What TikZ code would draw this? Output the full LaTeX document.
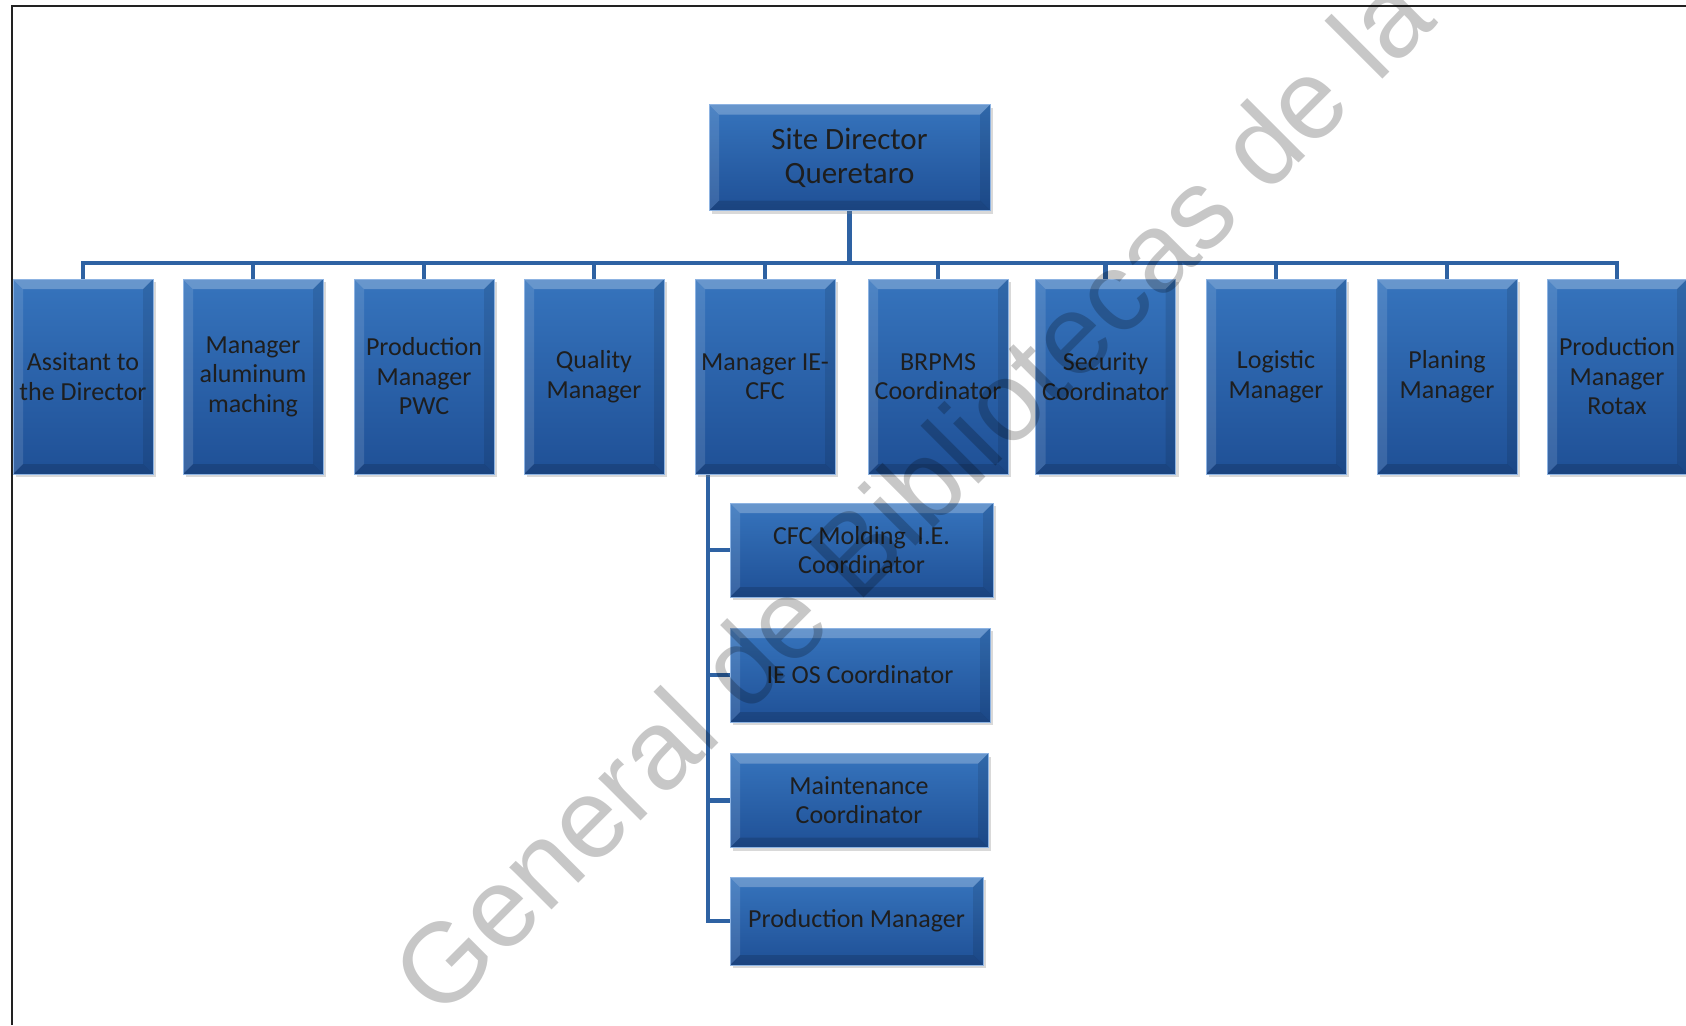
\documentclass[tikz,border=0pt]{standalone}
\usepackage{fontspec}
\setmainfont{Carlito}
\newfontfamily\markfont{Liberation Sans}
\usetikzlibrary{shadows,backgrounds}
\definecolor{boxtop}{HTML}{3674BD}
\definecolor{boxbot}{HTML}{1F5096}
\definecolor{boxedge}{HTML}{8DB3E2}
\definecolor{linkblue}{HTML}{2E62A3}
\definecolor{inktext}{HTML}{1E1E1E}
\definecolor{framegray}{HTML}{222222}
\tikzset{
    bevelbox/.style={rectangle, draw=boxedge, line width=0.8pt,
        top color=boxtop, bottom color=boxbot, text=inktext, align=center, inner sep=2pt,
        drop shadow={shadow xshift=3pt, shadow yshift=-3pt, opacity=0.3},
        path picture={
            \def\bw{10pt}
            \coordinate (pnw) at (path picture bounding box.north west);
            \coordinate (pne) at (path picture bounding box.north east);
            \coordinate (psw) at (path picture bounding box.south west);
            \coordinate (pse) at (path picture bounding box.south east);
            \fill[white, opacity=0.25] (pnw) -- (pne) -- ([xshift=-\bw,yshift=-\bw]pne) -- ([xshift=\bw,yshift=-\bw]pnw) -- cycle;
            \fill[white, opacity=0.12] (pnw) -- (psw) -- ([xshift=\bw,yshift=\bw]psw) -- ([xshift=\bw,yshift=-\bw]pnw) -- cycle;
            \fill[black, opacity=0.10] (pne) -- (pse) -- ([xshift=-\bw,yshift=\bw]pse) -- ([xshift=-\bw,yshift=-\bw]pne) -- cycle;
            \fill[black, opacity=0.15] (psw) -- (pse) -- ([xshift=-\bw,yshift=\bw]pse) -- ([xshift=\bw,yshift=\bw]psw) -- cycle;
        }},
    tallbox/.style={bevelbox, minimum width=140pt, minimum height=195pt, font=\fontsize{26}{29.5}\selectfont},
    widebox/.style={bevelbox, minimum height=94pt, font=\fontsize{26}{29}\selectfont},
    link/.style={draw=linkblue, line width=4.5pt},
}
\begin{document}
\begin{tikzpicture}[x=1pt,y=-1pt]
    \useasboundingbox (0,0) rectangle (1686,1025);
    \def\rowY{376.5}
    \def\busY{263}
    \def\trunkX{708}

    % frame of the page
    \draw[framegray, line width=2.5pt] (12,1025) -- (12,6) -- (1686,6);

    % director
    \node[bevelbox, minimum width=281pt, minimum height=106pt, font=\fontsize{31}{34}\selectfont] (dir) at (849.5,157.5) {Site Director\\Queretaro};

    % managers
    \foreach \i/\x/\txt in {1/83/{Assitant to\\the Director}, 2/253/{Manager\\aluminum\\maching},
            3/424/{Production\\Manager\\PWC}, 4/594/{Quality\\Manager}, 5/765/{Manager IE-\\CFC},
            6/938/{BRPMS\\Coordinator}, 7/1105.5/{Security\\Coordinator}, 8/1276/{Logistic\\Manager},
            9/1447/{Planing\\Manager}, 10/1617/{Production\\Manager\\Rotax}} {
        \node[tallbox] (m\i) at (\x,\rowY) {\txt};
    }

    % under Manager IE-CFC
    \node[widebox, minimum width=263pt] (s1) at (861.5,550) {CFC Molding\ \ I.E.\\Coordinator};
    \node[widebox, minimum width=260pt] (s2) at (860,675) {IE OS Coordinator};
    \node[widebox, minimum width=258pt] (s3) at (859,800.5) {Maintenance\\Coordinator};
    \node[widebox, minimum width=253pt, minimum height=88pt] (s4) at (856.5,921) {Production Manager};

    \coordinate (bus) at (0,\busY);
    \coordinate (trunk) at (\trunkX,0);
    \begin{scope}[on background layer]
        \draw[link] (dir.south) -- (dir.south |- bus);
        \draw[link] (m1.north) -- (m1.north |- bus) -- (m10.north |- bus) -- (m10.north);
        \foreach \i in {2,...,9} {
            \draw[link] (m\i.north |- bus) -- (m\i.north);
        }
        \draw[link] (trunk |- m5.south) -- (trunk |- s4.west) -- (s4.west);
        \foreach \j in {1,2,3} {
            \draw[link] (trunk |- s\j.west) -- (s\j.west);
        }
    \end{scope}

    % watermark
    \node[rotate=45, anchor=base west, inner sep=0pt, text=black, text opacity=0.22,
        font=\markfont\fontsize{113}{120}\selectfont] (mark) at (440,1022) {General de Bibliotecas de la};
\end{tikzpicture}
\end{document}
